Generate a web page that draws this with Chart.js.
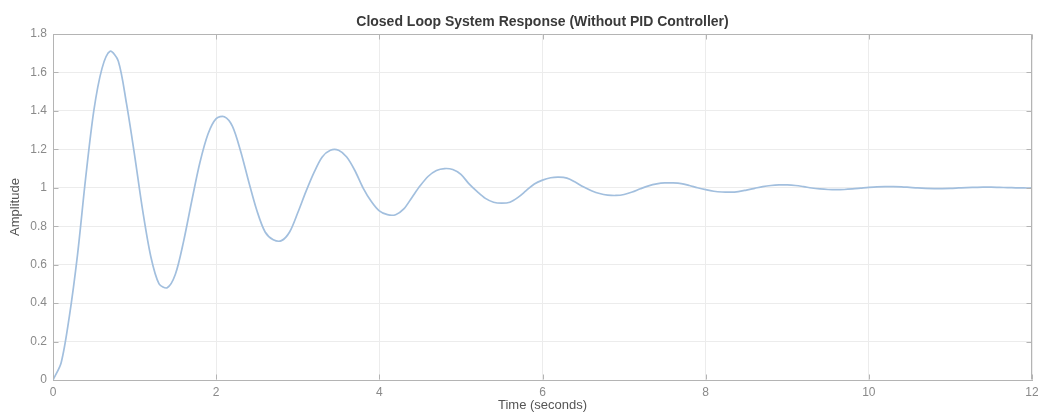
<!DOCTYPE html>
<html>
<head>
<meta charset="utf-8">
<script src="https://cdn.jsdelivr.net/npm/chart.js@4/dist/chart.umd.min.js"></script>
<style>
  html, body { margin: 0; padding: 0; background: #ffffff; }
  #wrap { width: 1038px; height: 413px; position: relative; }
</style>
</head>
<body>
<div id="wrap"><canvas id="c" width="1038" height="413"></canvas></div>
<script>
// Step response samples (time in seconds, amplitude)
const time = [
  0.0, 0.1, 0.2, 0.3, 0.4, 0.5, 0.6, 0.7, 0.8, 0.9,
  1.0, 1.1, 1.2, 1.3, 1.4, 1.5, 1.6, 1.7, 1.8, 1.9,
  2.0, 2.1, 2.2, 2.3, 2.4, 2.5, 2.6, 2.7, 2.8, 2.9,
  3.0, 3.1, 3.2, 3.3, 3.4, 3.5, 3.6, 3.7, 3.8, 3.9,
  4.0, 4.1, 4.2, 4.3, 4.4, 4.5, 4.6, 4.7, 4.8, 4.9,
  5.0, 5.1, 5.2, 5.3, 5.4, 5.5, 5.6, 5.7, 5.8, 5.9,
  6.0, 6.1, 6.2, 6.3, 6.4, 6.5, 6.6, 6.7, 6.8, 6.9,
  7.0, 7.1, 7.2, 7.3, 7.4, 7.5, 7.6, 7.7, 7.8, 7.9,
  8.0, 8.1, 8.2, 8.3, 8.4, 8.5, 8.6, 8.7, 8.8, 8.9,
  9.0, 9.1, 9.2, 9.3, 9.4, 9.5, 9.6, 9.7, 9.8, 9.9,
  10.0, 10.1, 10.2, 10.3, 10.4, 10.5, 10.6, 10.7, 10.8, 10.9,
  11.0, 11.1, 11.2, 11.3, 11.4, 11.5, 11.6, 11.7, 11.8, 11.9,
  12.0
];
const amplitude = [
  0.00, 0.09, 0.33, 0.65, 1.05, 1.40, 1.62, 1.71, 1.66, 1.44,
  1.17, 0.88, 0.64, 0.50, 0.48, 0.55, 0.72, 0.93, 1.13, 1.28,
  1.36, 1.37, 1.32, 1.19, 1.03, 0.88, 0.77, 0.73, 0.725, 0.77,
  0.87, 0.98, 1.08, 1.16, 1.195, 1.195, 1.16, 1.09, 1.00, 0.93,
  0.88, 0.86, 0.86, 0.89, 0.95, 1.01, 1.06, 1.09, 1.10, 1.095,
  1.07, 1.02, 0.98, 0.945, 0.925, 0.92, 0.925, 0.95, 0.985, 1.02,
  1.04, 1.052, 1.055, 1.05, 1.03, 1.005, 0.985, 0.97, 0.962, 0.96,
  0.965, 0.978, 0.995, 1.01, 1.02, 1.025, 1.025, 1.022, 1.012, 1.0,
  0.99, 0.982, 0.978, 0.977, 0.98, 0.988, 0.997, 1.006, 1.012, 1.015,
  1.015, 1.012, 1.006, 0.999, 0.994, 0.991, 0.99, 0.991, 0.994, 0.998,
  1.002, 1.005, 1.006, 1.006, 1.005, 1.002, 0.999, 0.997, 0.996, 0.996,
  0.997, 0.999, 1.001, 1.002, 1.003, 1.003, 1.002, 1.001, 1.0, 0.999,
  0.999
];
const xTicks = [0, 2, 4, 6, 8, 10, 12];
const yTicks = [0, 0.2, 0.4, 0.6, 0.8, 1, 1.2, 1.4, 1.6, 1.8];
const chartTitle = 'Closed Loop System Response (Without PID Controller)';

const FONT = 'Liberation Sans, Arial, Helvetica, sans-serif';
const AXIS_COLOR = '#b4b4b4';

const points = time.map((t, i) => ({ x: t, y: amplitude[i] }));

// Axes box: top/right edges, inward tick marks on all four sides, and a title centred over the plot
const boxPlugin = {
  id: 'axesBox',
  afterDraw(chart) {
    const { ctx, chartArea: a, scales } = chart;
    const L = Math.round(a.left) + 0.5, R = Math.round(a.right) - 0.5;
    const T = Math.round(a.top) + 0.5, B = Math.round(a.bottom) - 0.5;
    const tick = 5;
    ctx.save();
    ctx.strokeStyle = AXIS_COLOR;
    ctx.lineWidth = 1;
    ctx.beginPath();
    ctx.moveTo(L, T); ctx.lineTo(R, T); ctx.lineTo(R, B);
    xTicks.forEach(v => {
      const px = Math.round(scales.x.getPixelForValue(v)) + 0.5;
      ctx.moveTo(px, B); ctx.lineTo(px, B - tick);
      ctx.moveTo(px, T); ctx.lineTo(px, T + tick);
    });
    yTicks.forEach(v => {
      const py = Math.round(scales.y.getPixelForValue(v)) + 0.5;
      ctx.moveTo(L, py); ctx.lineTo(L + tick, py);
      ctx.moveTo(R, py); ctx.lineTo(R - tick, py);
    });
    ctx.stroke();

    ctx.fillStyle = '#3a3a3a';
    ctx.font = 'bold 14px ' + FONT;
    ctx.textAlign = 'center';
    ctx.textBaseline = 'middle';
    ctx.fillText(chartTitle, (a.left + a.right) / 2, 22);
    ctx.restore();
  }
};

new Chart(document.getElementById('c'), {
  type: 'line',
  data: {
    datasets: [{
      data: points,
      borderColor: '#a2bfde',
      borderWidth: 1.7,
      pointRadius: 0,
      fill: false,
      tension: 0.3
    }]
  },
  plugins: [boxPlugin],
  options: {
    responsive: false,
    animation: false,
    layout: { padding: { left: 0, right: 6, top: 34, bottom: 0 } },
    plugins: {
      legend: { display: false },
      tooltip: { enabled: false },
      title: { display: false }
    },
    scales: {
      x: {
        type: 'linear',
        min: 0,
        max: 12,
        afterBuildTicks(axis) { axis.ticks = xTicks.map(v => ({ value: v })); },
        afterFit(axis) { axis.height = 33; axis.paddingLeft = 0; axis.paddingRight = 0; },
        ticks: {
          color: '#8a8a8a',
          font: { family: FONT, size: 12 },
          padding: 5,
          maxRotation: 0
        },
        grid: { color: '#ececec', drawTicks: false },
        border: { color: AXIS_COLOR },
        title: {
          display: true,
          text: 'Time (seconds)',
          color: '#555555',
          font: { family: FONT, size: 13 },
          padding: { top: 3, bottom: 0 }
        }
      },
      y: {
        type: 'linear',
        min: 0,
        max: 1.8,
        afterBuildTicks(axis) { axis.ticks = yTicks.map(v => ({ value: v })); },
        afterFit(axis) { axis.width = 53; axis.paddingTop = 0; axis.paddingBottom = 0; },
        ticks: {
          color: '#8a8a8a',
          font: { family: FONT, size: 12 },
          padding: 6,
          callback: v => String(Number(v.toFixed(1)))
        },
        grid: { color: '#ececec', drawTicks: false },
        border: { color: AXIS_COLOR },
        title: {
          display: true,
          text: 'Amplitude',
          color: '#555555',
          font: { family: FONT, size: 13 },
          padding: { top: 8, bottom: 4 }
        }
      }
    }
  }
});
</script>
</body>
</html>
